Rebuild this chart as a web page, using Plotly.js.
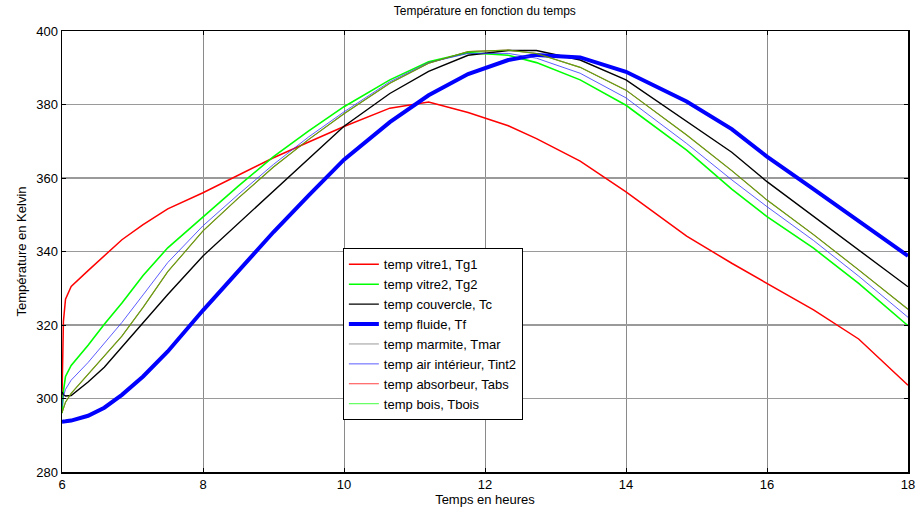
<!DOCTYPE html>
<html>
<head>
<meta charset="utf-8">
<script src="https://cdn.plot.ly/plotly-3.0.1.min.js"></script>
<style>html,body{margin:0;padding:0;background:#fff;}#chart{width:918px;height:512px;}</style>
</head>
<body>
<div id="chart"></div>
<script>
// Time in hours
const hours = [6, 6.02, 6.05, 6.13, 6.37, 6.6, 6.85, 7.15, 7.5, 8.0, 8.5, 9.0, 9.5, 10.0, 10.65, 11.2, 11.76, 12.33, 12.73, 13.35, 14.0, 14.86, 15.5, 16.0, 16.66, 17.3, 18];

// Temperatures in Kelvin
const Tg1 = [300, 321, 327, 330.5, 334.8, 338.7, 343.2, 347.3, 351.6, 356, 360.8, 365.5, 369.8, 374, 379, 380.7, 377.8, 374.2, 370.7, 364.6, 356.2, 344.2, 336.8, 331.4, 324.1, 316.2, 303.6];
const Tg2 = [296, 302, 306, 309, 314.5, 320.2, 326, 333.5, 341, 349.5, 357.8, 365.8, 372.8, 379.4, 386.7, 391.6, 394.1, 393.4, 391.4, 386.7, 379.8, 367.6, 357, 349.5, 340.9, 331.3, 319.8];
const Tc = [301.8, 301, 300.7, 300.8, 304.5, 308.5, 314, 320.5, 328.3, 338.8, 347.6, 356.4, 365.3, 374.1, 383, 389, 393.4, 394.7, 394.7, 392.1, 386.7, 375.4, 367, 359, 349.6, 340.3, 330.4];
const Tf = [293.7, 293.7, 293.8, 294, 295.3, 297.5, 301, 306, 312.8, 324, 334.5, 345.3, 355.3, 365, 375.2, 382.5, 388.3, 392.1, 393.5, 392.8, 388.9, 380.8, 373.3, 365.8, 357, 348.3, 338.8];
const Tmar = [296.1, 297.5, 299, 301.4, 306.5, 311.5, 317, 324.8, 334.5, 345.6, 354.5, 363, 370.5, 377.5, 385.8, 391.2, 394.4, 394.8, 393.9, 390.1, 383.9, 371.7, 362, 354, 344.6, 335, 324.3];
const Tint2 = [297.8, 300.5, 302.5, 305, 309.8, 315, 320.7, 328.2, 337, 347, 355.5, 363.7, 371.2, 378, 386.2, 391.4, 393.9, 393.9, 392.6, 388.5, 381.8, 369.4, 359.5, 352.2, 343, 333.3, 322.1];
const Tabs = [296.1, 297.5, 299, 301.4, 306.5, 311.5, 317, 324.8, 334.5, 345.6, 354.5, 363, 370.5, 377.5, 385.8, 391.2, 394.4, 394.8, 393.9, 390.1, 383.9, 371.7, 362, 354, 344.6, 335, 324.3];
const Tbois = [296.1, 297.5, 299, 301.4, 306.5, 311.5, 317, 324.8, 334.5, 345.6, 354.5, 363, 370.5, 377.5, 385.8, 391.2, 394.4, 394.8, 393.9, 390.1, 383.9, 371.7, 362, 354, 344.6, 335, 324.3];

const names = ['temp vitre1, Tg1', 'temp vitre2, Tg2', 'temp couvercle, Tc', 'temp fluide, Tf',
               'temp marmite, Tmar', 'temp air intérieur, Tint2', 'temp absorbeur, Tabs', 'temp bois, Tbois'];
const xTicks = [6, 8, 10, 12, 14, 16, 18];
const yTicks = [280, 300, 320, 340, 360, 380, 400];

const series = [Tg1, Tg2, Tc, Tf, Tmar, Tint2, Tabs, Tbois];
const styles = [
  {color: '#ff0000', width: 1.5, opacity: 1},
  {color: '#00ff00', width: 1.6, opacity: 1},
  {color: '#000000', width: 1.4, opacity: 1},
  {color: '#0000ff', width: 4, opacity: 1},
  {color: '#555555', width: 1, opacity: 0.6},
  {color: '#3333ff', width: 1, opacity: 0.8},
  {color: '#ff0000', width: 1.1, opacity: 0.75},
  {color: '#00ff00', width: 1.1, opacity: 0.6}
];

const data = series.map((s, i) => ({
  x: hours, y: s, type: 'scatter', mode: 'lines', name: names[i],
  line: {color: styles[i].color, width: styles[i].width},
  opacity: styles[i].opacity
}));

const font = 'Liberation Sans, Arial, sans-serif';
const layout = {
  width: 918, height: 512,
  margin: {l: 62, r: 10, t: 31, b: 40},
  paper_bgcolor: '#ffffff', plot_bgcolor: '#ffffff',
  font: {family: font, size: 13, color: '#000'},
  title: {text: 'Température en fonction du temps', font: {family: font, size: 12, color: '#000'},
          x: 0.5281, xanchor: 'center', y: 0.978, yanchor: 'middle'},
  xaxis: {
    range: [6, 18], tickvals: xTicks, ticktext: xTicks.map(String),
    showgrid: true, gridcolor: '#8a8a8a', gridwidth: 1,
    zeroline: false, showline: true, linecolor: '#000', linewidth: 1.5, mirror: 'ticks',
    ticks: 'inside', ticklen: 4, tickcolor: '#000',
    tickfont: {family: font, size: 13},
    title: {text: 'Temps en heures', font: {family: font, size: 13}, standoff: 2}
  },
  yaxis: {
    range: [280, 400], tickvals: yTicks, ticktext: yTicks.map(String),
    showgrid: true, gridcolor: '#9a9a9a', gridwidth: 1.5,
    zeroline: false, showline: true, linecolor: '#000', linewidth: 1.5, mirror: 'ticks',
    ticks: 'inside', ticklen: 4, tickcolor: '#000',
    tickfont: {family: font, size: 13},
    title: {text: 'Température en Kelvin', font: {family: font, size: 13}, standoff: 6}
  },
  showlegend: true,
  legend: {
    x: 0.332, y: 0.507, xanchor: 'left', yanchor: 'top',
    bgcolor: '#ffffff', bordercolor: '#000', borderwidth: 1,
    font: {family: font, size: 13}, tracegroupgap: 0, itemwidth: 30
  }
};

Plotly.newPlot('chart', data, layout, {displayModeBar: false, staticPlot: true});
</script>
</body>
</html>
